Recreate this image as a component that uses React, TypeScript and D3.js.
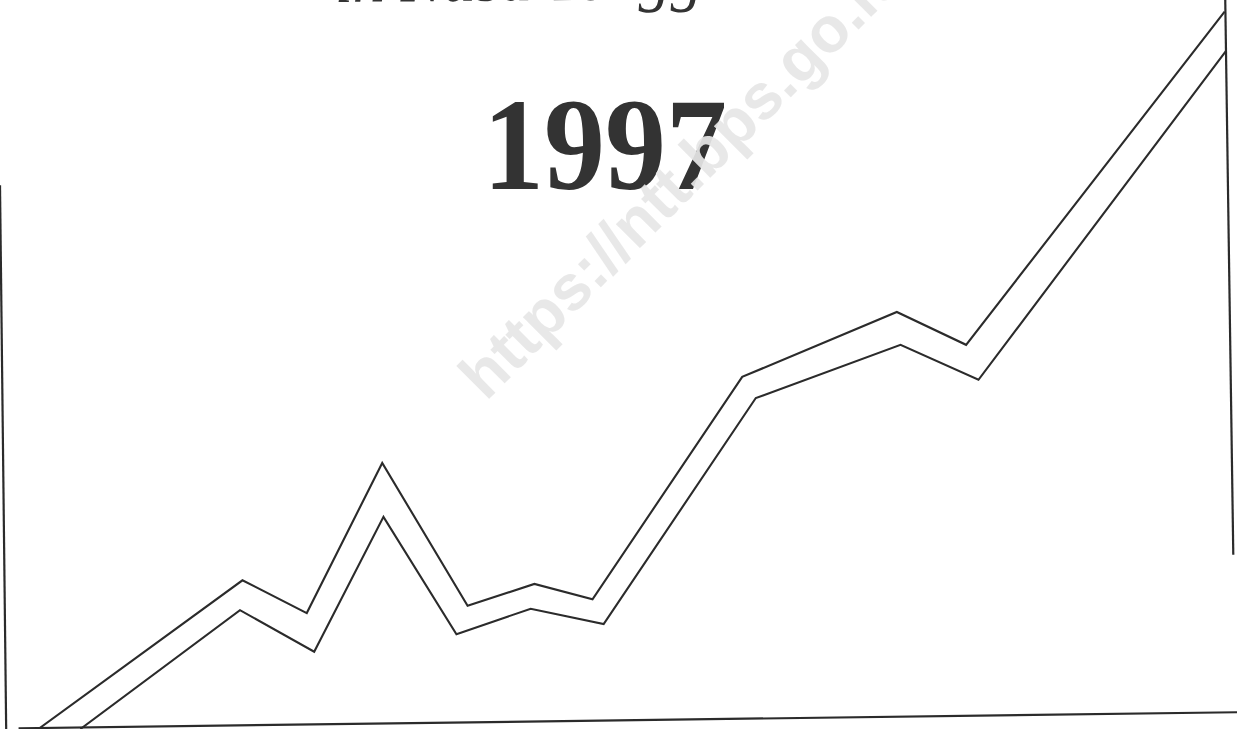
import { useRef, useEffect } from 'react';
import * as d3 from 'd3';

const W = 1237;
const H = 729;

// horizontal position (0-100 across the page) and value (0-100 up the page)
const upperPos = [3.1, 19.6, 24.8, 30.9, 37.8, 43.2, 47.9, 60.0, 72.5, 78.1, 99.0];
const upperValues = [0, 20.4, 15.9, 36.5, 16.9, 19.9, 17.8, 48.3, 57.2, 52.7, 98.4];
const lowerPos = [6.5, 19.4, 25.4, 31.0, 36.9, 42.9, 48.8, 61.1, 72.8, 79.1, 99.1];
const lowerValues = [0, 16.3, 10.6, 29.1, 13.0, 16.5, 14.4, 45.4, 52.7, 47.9, 93.0];

const subtitle = 'in Nusa Tenggara Timur';
const yearLabel = '1997';
const watermark = 'https://ntt.bps.go.id';

const App = () => {
  const ref = useRef<SVGSVGElement>(null);

  useEffect(() => {
    const svg = d3.select(ref.current);
    svg.selectAll('*').remove();

    const x = d3.scaleLinear().domain([0, 100]).range([0, W]);
    const y = d3.scaleLinear().domain([0, 100]).range([H, 0]);
    const ink = '#2b2b2b';

    svg.append('rect').attr('width', W).attr('height', H).attr('fill', '#fff');

    // scanned page frame (slightly skewed)
    const frame: [number, number][][] = [
      [[0, 74.6], [0.5, 0]],
      [[1.5, 0.1], [100, 2.3]],
      [[99.05, 100], [99.7, 23.9]],
    ];
    const seg = d3.line<[number, number]>().x(d => x(d[0])).y(d => y(d[1]));
    svg.selectAll('path.frame')
      .data(frame)
      .enter().append('path')
      .attr('class', 'frame')
      .attr('d', d => seg(d))
      .attr('fill', 'none')
      .attr('stroke', ink)
      .attr('stroke-width', 2.2);

    const series = [
      { pos: upperPos, vals: upperValues },
      { pos: lowerPos, vals: lowerValues },
    ];
    series.forEach(s => {
      const l = d3.line<number>()
        .x((_, i) => x(s.pos[i]))
        .y(d => y(d));
      svg.append('path')
        .attr('d', l(s.vals))
        .attr('fill', 'none')
        .attr('stroke', ink)
        .attr('stroke-width', 2.1)
        .attr('stroke-linejoin', 'miter');
    });

    // cut-off italic subtitle at the very top
    svg.append('text')
      .attr('x', 335)
      .attr('y', 2)
      .attr('transform', 'rotate(-0.5, 335, 2)')
      .attr('font-family', '"Liberation Serif", "Times New Roman", serif')
      .attr('font-style', 'italic')
      .attr('font-size', 64)
      .attr('fill', '#333')
      .text(subtitle);

    svg.append('text')
      .attr('x', 605)
      .attr('y', 189)
      .attr('text-anchor', 'middle')
      .attr('font-family', '"Liberation Serif", "Times New Roman", serif')
      .attr('font-weight', 'bold')
      .attr('font-size', 132)
      .attr('textLength', 244)
      .attr('lengthAdjust', 'spacingAndGlyphs')
      .attr('fill', '#333')
      .text(yearLabel);

    svg.append('text')
      .attr('x', 486)
      .attr('y', 402)
      .attr('transform', 'rotate(-45, 486, 402)')
      .attr('font-family', '"Liberation Sans", Arial, sans-serif')
      .attr('font-weight', 'bold')
      .attr('font-size', 64)
      .attr('fill', '#e6e6e6')
      .attr('fill-opacity', 0.92)
      .text(watermark);
  }, []);

  return (
    <svg
      ref={ref}
      width={W}
      height={H}
      style={{ position: 'absolute', left: 0, top: 0, display: 'block' }}
    ></svg>
  );
};

export default App;
